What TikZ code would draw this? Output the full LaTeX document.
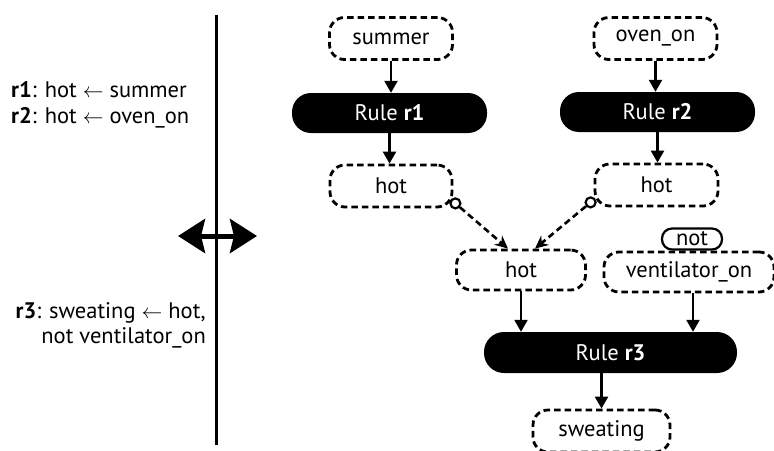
\documentclass[tikz,border=0pt]{standalone}
\usepackage{fontspec}
\setmainfont{PT Sans}
\usetikzlibrary{arrows.meta}
\begin{document}
\begin{tikzpicture}[x=1pt,y=-1pt,
  font=\fontsize{22.5}{27}\selectfont,
  atom/.style={draw, line width=2.8pt, dash pattern=on 6.5pt off 4pt,
    rounded corners=15pt, inner sep=0pt, minimum height=42pt},
  rulebox/.style={fill=black, text=white, rounded corners=19pt,
    inner sep=0pt, minimum height=40pt, minimum width=195pt},
  negbox/.style={draw, line width=2.2pt, rounded corners=10pt, inner sep=0pt,
    minimum height=21pt, minimum width=60pt},
  flow/.style={line width=2.4pt, -{Triangle[length=12pt,width=13pt]}},
  link/.style={line width=2.6pt, dash pattern=on 6.5pt off 4pt,
    -{Stealth[length=13pt,width=12pt]}},
  knob/.style={circle, draw, fill=white, line width=2.2pt, inner sep=0pt,
    minimum size=10pt},
  rtext/.style={inner sep=0pt}]
\useasboundingbox (0,0) rectangle (774,450);

% separator and the two-way arrow across it
\coordinate (top) at (216.5,15);
\coordinate (bot) at (216.5,445);
\draw[line width=3pt] (top) -- (bot);
\coordinate (la) at (178,236);
\coordinate (ra) at (257,236);
\draw[line width=5pt, {Stealth[length=27pt,width=34pt,inset=4pt]}-{Stealth[length=27pt,width=34pt,inset=4pt]}] (la) -- (ra);

% rules as text
\node[rtext, anchor=base west] (t1) at (11,97) {\textbf{r1}: hot $\leftarrow$ summer};
\node[rtext, anchor=base west] (t2) at (11,123) {\textbf{r2}: hot $\leftarrow$ oven\_on};
\node[rtext, anchor=base east] (t3) at (206,318) {\textbf{r3}: sweating $\leftarrow$ hot,};
\node[rtext, anchor=base east] (t4) at (206,343) {not ventilator\_on};

% graph
\node[atom, minimum width=123pt] (summer) at (391,38.5) {summer};
\node[atom, minimum width=123pt] (oven) at (655.5,38.5) {oven\_on};
\node[rulebox] (r1) at (389.5,113) {Rule \textbf{r1}};
\node[rulebox] (r2) at (657.5,112) {Rule \textbf{r2}};
\node[atom, minimum width=122pt] (lhot) at (391,186) {hot};
\node[atom, minimum width=123pt] (rhot) at (656.5,185) {hot};
\node[atom, minimum width=129pt, minimum height=40pt] (mhot) at (521,270) {hot};
\node[atom, minimum width=170pt, minimum height=40pt] (vent) at (689,272) {ventilator\_on};
\node[negbox] (neg) at (692,239) {not};
\node[rulebox, minimum width=253pt, minimum height=41pt, rounded corners=20pt] (r3) at (610.5,352.5) {Rule \textbf{r3}};
\node[atom, minimum width=137pt] (sweat) at (601.5,431) {sweating};

\draw[flow] (summer.south) -- (summer.south |- r1.north);
\draw[flow] (r1.south) -- (r1.south |- lhot.north);
\draw[flow] (oven.south) -- (oven.south |- r2.north);
\draw[flow] (r2.south) -- (r2.south |- rhot.north);
\draw[flow] (mhot.south) -- (mhot.south |- r3.north);
\draw[flow] ([xshift=4pt]vent.south) -- ([xshift=4pt]vent.south |- r3.north);
\draw[flow] (sweat.north |- r3.south) -- (sweat.north);

\node[knob] (c1) at ([xshift=2pt,yshift=5pt]lhot.south east) {};
\node[knob] (c2) at ([xshift=-3pt,yshift=5pt]rhot.south west) {};
\draw[link] (c1) -- ([xshift=-13pt]mhot.north);
\draw[link] (c2) -- ([xshift=14pt]mhot.north);
\end{tikzpicture}
\end{document}
